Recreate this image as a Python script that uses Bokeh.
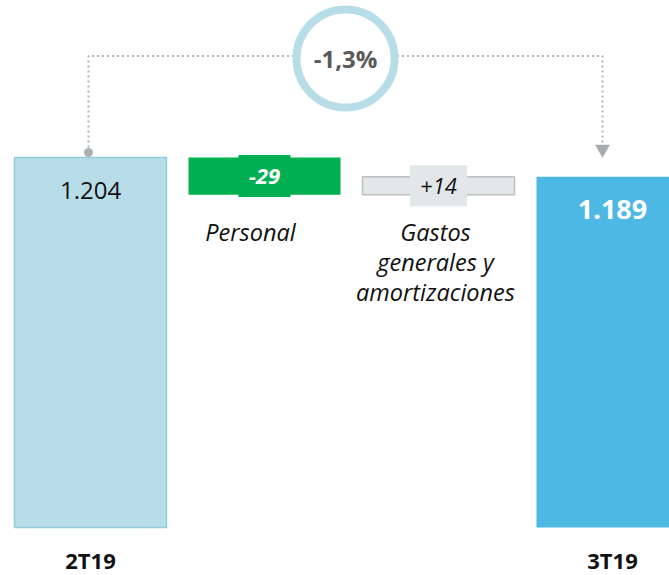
from bokeh.plotting import figure
from bokeh.models import Range1d
from bokeh.core.properties import value
from bokeh.embed import file_html
from bokeh.resources import INLINE

# ---- data ----
periods = ["2T19", "3T19"]
period_values = [1204, 1189]
period_labels = ["1.204", "1.189"]
driver_names = ["Personal", "Gastos\ngenerales y\namortizaciones"]
driver_deltas = [-29, 14]
driver_labels = ["-29", "+14"]
variation_label = "-1,3%"

# ---- layout constants ----
W, H = 669, 575
K = 1.28            # pixels per unit
SLOT = 174          # pixels between bar centres
FIRST = 90          # pixel centre of first bar
HALF = 76 / SLOT    # half bar width in x units
BASE = 915          # broken-axis baseline value
TOP = 1326.7        # value at the top of the frame

def px(d):
    return d / K

p = figure(width=W, height=H, output_backend="svg", toolbar_location=None,
           x_range=Range1d(-FIRST / SLOT, (W - FIRST) / SLOT),
           y_range=Range1d(TOP - H / K, TOP),
           min_border=0, outline_line_color=None,
           x_axis_type=None, y_axis_type=None)
p.xgrid.visible = False
p.ygrid.visible = False
p.background_fill_color = "white"

xs = [0, 1, 2, 3]
start, end = period_values

# waterfall levels
levels = [start]
for d in driver_deltas:
    levels.append(levels[-1] + d)
drv_bottom = [min(levels[i], levels[i + 1]) for i in range(len(driver_deltas))]
drv_top = [max(levels[i], levels[i + 1]) for i in range(len(driver_deltas))]
drv_mid = [(a + b) / 2 for a, b in zip(drv_bottom, drv_top)]

# period bars
p.quad(left=[xs[0] - HALF], right=[xs[0] + HALF], bottom=[BASE], top=[start],
       fill_color="#B7DEE8", line_color="#93CDDD", line_width=1.5)
p.quad(left=[xs[3] - HALF], right=[xs[3] + HALF], bottom=[BASE], top=[end],
       fill_color="#4DB8E4", line_color=None)

# driver bars
p.quad(left=[xs[1] - HALF], right=[xs[1] + HALF], bottom=[drv_bottom[0]], top=[drv_top[0]],
       fill_color="#00B050", line_color=None)
p.quad(left=[xs[2] - HALF], right=[xs[2] + HALF], bottom=[drv_bottom[1]], top=[drv_top[1]],
       fill_color="#E2E7EA", line_color="#BFBFBF", line_width=1.5)

# label boxes on driver bars
p.rect(x=[xs[1]], y=[drv_mid[0]], width=52, height=42,
       width_units="screen", height_units="screen",
       fill_color="#00B050", line_color=None)
p.rect(x=[xs[2]], y=[drv_mid[1]], width=57, height=41,
       width_units="screen", height_units="screen",
       fill_color="#E2E7EA", line_color=None)

# connector
x0 = xs[0] - 2 / SLOT
x1 = xs[3] - 10 / SLOT
conn_y = start + px(101.5)
p.line(x=[x0, x0, x1, x1],
       y=[start + px(5), conn_y, conn_y, end + px(31)],
       line_color="#A9B7C0", line_width=2, line_dash="2 3")
p.scatter(x=[x0], y=[start + px(5)], size=9, marker="circle",
          fill_color="#A9B1B7", line_color=None)
p.scatter(x=[x1], y=[end + px(27.7)], size=15, marker="inverted_triangle",
          fill_color="#A5ADB3", line_color=None)

# variation circle
cx = (x0 + x1) / 2
cy = conn_y - px(2.5)
p.scatter(x=[cx], y=[cy], size=98, marker="circle",
          fill_color="white", line_color="#B7DEE8", line_width=8)
p.text(x=[cx], y=[cy], text=[variation_label], text_align="center",
       text_baseline="middle", text_font=value("Open Sans"),
       text_font_style="bold", text_font_size="24px", text_color="#595959")

# value labels on period bars
p.text(x=[xs[0]], y=[start], text=[period_labels[0]], y_offset=33,
       text_align="center", text_baseline="middle",
       text_font=value("Open Sans"), text_font_size="24px", text_color="#111111")
p.text(x=[xs[3]], y=[end], text=[period_labels[1]], y_offset=33,
       text_align="center", text_baseline="middle",
       text_font=value("Open Sans"), text_font_style="bold",
       text_font_size="27px", text_color="white")

# driver value labels
p.text(x=[xs[1]], y=[drv_mid[0]], text=[driver_labels[0]],
       text_align="center", text_baseline="middle",
       text_font=value("Open Sans"), text_font_style="bold italic",
       text_font_size="22px", text_color="white")
p.text(x=[xs[2]], y=[drv_mid[1]], text=[driver_labels[1]],
       text_align="center", text_baseline="middle",
       text_font=value("Open Sans"), text_font_style="italic",
       text_font_size="22px", text_color="#111111")

# driver names
p.text(x=[xs[1], xs[2]], y=[drv_bottom[0], drv_bottom[1]], text=driver_names,
       x_offset=[-14, -3], y_offset=21,
       text_align="center", text_baseline="top", text_line_height=0.95,
       text_font=value("Open Sans"), text_font_style="italic",
       text_font_size="23.5px", text_color="#111111")

# period names under bars
p.text(x=[xs[0], xs[3]], y=[BASE, BASE], text=periods, y_offset=33,
       text_align="center", text_baseline="middle",
       text_font=value("Open Sans"), text_font_style="bold",
       text_font_size="22px", text_color="#111111")

open("out.html", "w").write(file_html(p, INLINE))
